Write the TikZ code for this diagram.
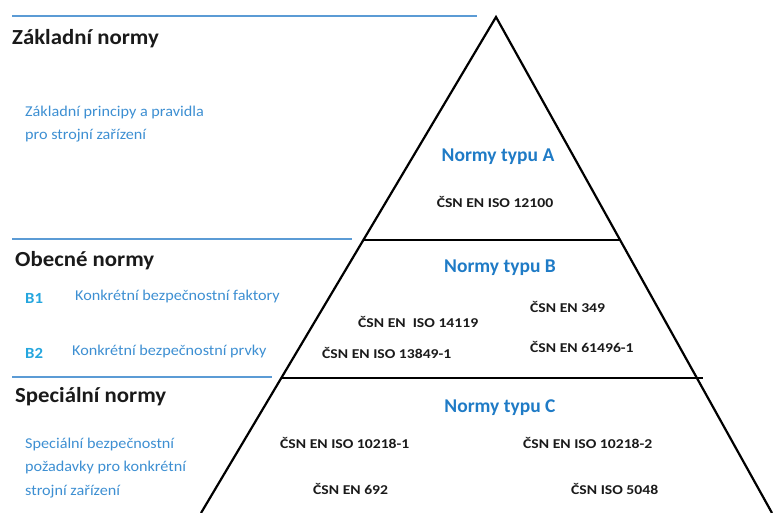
\documentclass[tikz,border=0pt]{standalone}
\usepackage{fontspec}
\setmainfont{Carlito}
\newfontfamily\headfont[FakeStretch=1.06]{Carlito}
\newfontfamily\descfont[FakeStretch=1.08]{Carlito}
\newfontfamily\normfont[FakeStretch=1.16]{Carlito}
\definecolor{rule}{HTML}{5B9BD5}
\definecolor{typ}{HTML}{1F7BC6}
\definecolor{desc}{HTML}{3D8FD2}
\definecolor{bcode}{HTML}{25A6DE}
\definecolor{ink}{HTML}{1A1A1A}
\tikzset{
  head/.style={anchor=west, inner sep=0pt, font=\headfont\fontsize{21.5}{24}\selectfont\bfseries, text=ink},
  descr/.style={anchor=west, inner sep=0pt, font=\descfont\fontsize{15}{23.5}\selectfont, text=desc, align=left},
  typlabel/.style={inner sep=0pt, font=\fontsize{19.5}{21}\selectfont\bfseries, text=typ},
  norm/.style={anchor=west, inner sep=0pt, font=\normfont\fontsize{13.5}{15}\selectfont\bfseries, text=ink},
  bcodes/.style={anchor=west, inner sep=0pt, font=\descfont\fontsize{15.5}{17}\selectfont\bfseries, text=bcode},
  blueline/.style={draw=rule, line width=1.6pt},
  pyr/.style={draw=black, line width=2.2pt, line join=miter}
}
\begin{document}
\begin{tikzpicture}[x=1pt,y=-1pt]
\useasboundingbox (0,0) rectangle (776,513);
% blue rules
\coordinate (r1a) at (12,16);  \coordinate (r1b) at (477,16);
\coordinate (r2a) at (12,239); \coordinate (r2b) at (352,239);
\coordinate (r3a) at (12,377); \coordinate (r3b) at (272,377);
\draw[blueline] (r1a) -- (r1b);
\draw[blueline] (r2a) -- (r2b);
\draw[blueline] (r3a) -- (r3b);
% pyramid
\coordinate (apex) at (496,17);
\coordinate (L1) at (364,240); \coordinate (R1) at (621,240);
\coordinate (L2) at (282,378); \coordinate (R2) at (703,378);
\coordinate (BL) at (201,513); \coordinate (BR) at (772,513);
\draw[pyr] (BL) -- (apex) -- (BR);
\draw[pyr] (L1) -- (R1);
\draw[pyr] (L2) -- (R2);
% left column
\node[head] (h1) at (12,39) {Základní normy};
\node[descr] (d1) at (25,124) {Základní principy a pravidla\\pro strojní zařízení};
\node[head] (h2) at (15,261) {Obecné normy};
\node[bcodes] (b1) at (25,298) {B1};
\node[descr] (b1t) at (75,297) {Konkrétní bezpečnostní faktory};
\node[bcodes] (b2) at (25,353) {B2};
\node[descr] (b2t) at (72,351) {Konkrétní bezpečnostní prvky};
\node[head] (h3) at (15,397) {Speciální normy};
\node[descr] (d3) at (25,468) {Speciální bezpečnostní\\požadavky pro konkrétní\\strojní zařízení};
% pyramid texts
\node[typlabel] (ta) at (498,157) {Normy typu A};
\node[norm, anchor=center] (n1) at (495,202) {ČSN EN ISO 12100};
\node[typlabel] (tb) at (500,268) {Normy typu B};
\node[norm] (n2) at (358,322) {ČSN EN\ \ ISO 14119};
\node[norm] (n3) at (322,353) {ČSN EN ISO 13849-1};
\node[norm] (n4) at (530,307) {ČSN EN 349};
\node[norm] (n5) at (530,347) {ČSN EN 61496-1};
\node[typlabel] (tc) at (500,408) {Normy typu C};
\node[norm] (n6) at (280,443) {ČSN EN ISO 10218-1};
\node[norm] (n7) at (523,443) {ČSN EN ISO 10218-2};
\node[norm] (n8) at (313,489) {ČSN EN 692};
\node[norm] (n9) at (571,489) {ČSN ISO 5048};
\end{tikzpicture}
\end{document}
